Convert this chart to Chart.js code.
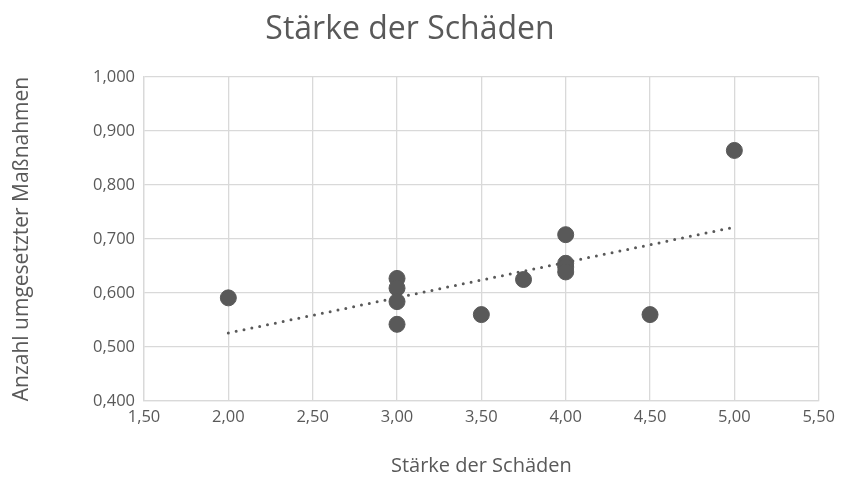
<!DOCTYPE html>
<html>
<head>
<meta charset="utf-8">
<script src="https://cdn.jsdelivr.net/npm/chart.js@4"></script>
<style>
  html, body { margin: 0; padding: 0; background: #fff; }
  #wrap { width: 841px; height: 484px; position: relative; }
</style>
</head>
<body>
<div id="wrap"><canvas id="damageChart"></canvas></div>
<script>
// Stärke der Schäden vs. Anzahl umgesetzter Maßnahmen
let staerke = [2.00, 3.00, 3.00, 3.00, 3.00, 3.50, 3.75, 4.00, 4.00, 4.00, 4.00, 4.50, 5.00];
let massnahmen = [0.591, 0.627, 0.609, 0.584, 0.542, 0.560, 0.625, 0.708, 0.655, 0.648, 0.639, 0.560, 0.864];

let trendX = [2.00, 5.00];
let trendY = [0.526, 0.722];

let chartTitle = 'Stärke der Schäden';
let xTitle = 'Stärke der Schäden';
let yTitle = 'Anzahl umgesetzter Maßnahmen';

var grey = '#595959';
var font = 'Open Sans';

function fmt(v, d) {
    return v.toFixed(d).replace('.', ',');
}

var ctx = document.getElementById('damageChart').getContext('2d');

var damageChart = new Chart(ctx, {
    type: 'scatter',
    data: {
        datasets: [
            {
                label: 'Maßnahmen',
                data: staerke.map((x, i) => ({ x: x, y: massnahmen[i] })),
                backgroundColor: grey,
                borderColor: grey,
                pointRadius: 8,
                pointHoverRadius: 8
            },
            {
                label: 'Trend',
                type: 'line',
                data: trendX.map((x, i) => ({ x: x, y: trendY[i] })),
                borderColor: grey,
                borderWidth: 3,
                borderDash: [0, 8],
                borderCapStyle: 'round',
                pointRadius: 0,
                fill: false
            }
        ]
    },
    options: {
        responsive: true,
        maintainAspectRatio: false,
        animation: false,
        layout: { padding: { left: 0, right: 21, top: 0, bottom: 0 } },
        plugins: {
            legend: { display: false },
            tooltip: { enabled: false },
            title: {
                display: true,
                text: chartTitle,
                color: grey,
                font: { family: font, size: 32, weight: 'normal' },
                padding: { top: 11, bottom: 27.6 }
            }
        },
        scales: {
            x: {
                type: 'linear',
                min: 1.5,
                max: 5.5,
                ticks: {
                    stepSize: 0.5,
                    color: grey,
                    font: { family: font, size: 16.5 },
                    padding: 6,
                    callback: v => fmt(v, 2)
                },
                grid: { color: '#d9d9d9', lineWidth: 1.3, drawTicks: false },
                border: { color: '#d9d9d9', width: 1.3 },
                title: {
                    display: true,
                    text: xTitle,
                    color: grey,
                    font: { family: font, size: 20 },
                    padding: { top: 0, bottom: 6 }
                },
                afterFit: s => { s.height = 83; }
            },
            y: {
                min: 0.4,
                max: 1.0,
                ticks: {
                    stepSize: 0.1,
                    color: grey,
                    font: { family: font, size: 16.5 },
                    padding: 9,
                    callback: v => fmt(v, 3)
                },
                grid: { color: '#d9d9d9', lineWidth: 1.3, drawTicks: false },
                border: { color: '#d9d9d9', width: 1.3 },
                title: {
                    display: true,
                    text: yTitle,
                    color: grey,
                    font: { family: font, size: 21 },
                    padding: { top: 9.4, bottom: 0 }
                },
                afterFit: s => { s.width = 144; }
            }
        }
    }
});
</script>
</body>
</html>
